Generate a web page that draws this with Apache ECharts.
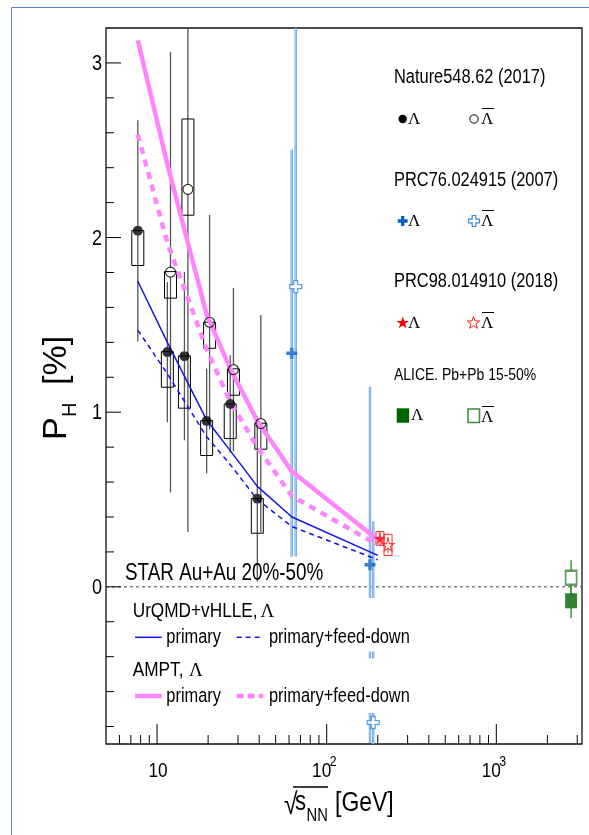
<!DOCTYPE html>
<html>
<head>
<meta charset="utf-8">
<script src="https://cdn.jsdelivr.net/npm/echarts@6/dist/echarts.min.js"></script>
<style>
html,body{margin:0;padding:0;background:#fff}
#chart{width:589px;height:835px}
</style>
</head>
<body>
<div id="chart"></div>
<script>
const SANS = "'Liberation Sans',Arial,sans-serif";
const SERIF = "'Liberation Serif','Times New Roman',serif";
const NARROW = 0.82; // horizontal squeeze for the condensed lettering

// axis ranges
const X_MIN = 5, X_MAX = 3200, Y_MIN = -0.9, Y_MAX = 3.2;

// tick positions and labels
const xMajorTicks = [10, 100, 1000];
const xMinorTicks = [6, 7, 8, 9, 20, 30, 40, 50, 60, 70, 80, 90, 200, 300, 400, 500, 600, 700, 800, 900, 2000, 3000];
const xTickLabels = ['10', '10', '10'];
const xTickExps = ['', '2', '3'];
const yMajorTicks = [0, 1, 2, 3];
const yMinorTicks = [-0.8, -0.6, -0.4, -0.2, 0.2, 0.4, 0.6, 0.8, 1.2, 1.4, 1.6, 1.8, 2.2, 2.4, 2.6, 2.8];
const yTickLabels = ['0', '1', '2', '3'];

// STAR BES (Nature 548, 62): Lambda
const lamEnergy = [7.7, 11.5, 14.5, 19.6, 27, 39];
const lamP = [2.039, 1.344, 1.321, 0.950, 1.047, 0.504];
const lamStat = [0.633, 0.401, 0.482, 0.300, 0.279, 0.473];
const lamSysLo = [1.84, 1.143, 1.023, 0.752, 0.849, 0.307];
const lamSysHi = [2.04, 1.347, 1.322, 0.952, 1.047, 0.505];

// STAR BES: anti-Lambda (slightly displaced in energy)
const antiEnergy = [12.0, 15.2, 20.4, 28.2, 40.9];
const antiP = [1.802, 2.276, 1.515, 1.244, 0.935];
const antiStat = [1.261, 1.962, 0.614, 0.468, 0.622];
const antiSysLo = [1.653, 2.128, 1.366, 1.097, 0.788];
const antiSysHi = [1.805, 2.679, 1.515, 1.248, 0.937];

// PRC 76, 024915 (2007)
const prc76LamEnergy = [62.2, 180];
const prc76LamP = [1.338, 0.126];
const prc76LamStat = [1.165, 1.02];
const prc76AntiEnergy = [65.7, 188];
const prc76AntiP = [1.719, -0.777];
const prc76AntiStat = [1.545, 1.151];

// PRC 98, 014910 (2018)
const prc98LamEnergy = [206];
const prc98LamP = [0.277];
const prc98LamStat = [0.040];
const prc98LamSys = [0.039];
const prc98AntiEnergy = [230];
const prc98AntiP = [0.240];
const prc98AntiStat = [0.045];
const prc98AntiSys = [0.061];

// ALICE Pb+Pb 2.76 TeV
const aliceEnergy = [2760];
const aliceLamP = [-0.08];
const aliceLamStat = [0.10];
const aliceAntiP = [0.052];
const aliceAntiStat = [0.10];

// model calculations
const modelEnergy = [7.7, 11.5, 19.6, 27, 39, 62.4, 200];
const urqmdPrimary = [1.75, 1.40, 0.955, 0.78, 0.575, 0.40, 0.18];
const urqmdFeedDown = [1.47, 1.22, 0.86, 0.70, 0.50, 0.345, 0.155];
const amptPrimary = [3.13, 2.42, 1.56, 1.25, 0.95, 0.66, 0.27];
const amptFeedDown = [2.59, 1.97, 1.36, 1.06, 0.80, 0.52, 0.24];

const zip = (xs, ...cols) => xs.map((x, i) => [x, ...cols.map(c => c[i])]);
const clampY = v => Math.max(Y_MIN, Math.min(Y_MAX, v));

const STAR_PATH = 'path://M50,0 L61.8,35.1 L97.6,34.5 L69.1,56.7 L79.4,90.5 L50,70 L20.6,90.5 L30.9,56.7 L2.4,34.5 L38.2,35.1 Z';
const CROSS_PATH = 'path://M34,0 L66,0 L66,34 L100,34 L100,66 L66,66 L66,100 L34,100 L34,66 L0,66 L0,34 L34,34 Z';

function custom(name, data, renderItem, z) {
  return {type: 'custom', name, data, renderItem, z, silent: true,
    coordinateSystem: 'cartesian2d', encode: {x: 0, y: 1}, clip: false};
}

// vertical error bars with a gap around the marker
function errorBars(name, data, gap, strokes, z) {
  return custom(name, data, (params, api) => {
    const x = api.value(0), y = api.value(1), e = api.value(2);
    const c = api.coord([x, y]);
    const top = api.coord([x, clampY(y + e)]);
    const bot = api.coord([x, clampY(y - e)]);
    const segs = [];
    if (top[1] < c[1] - gap) segs.push([top[1], c[1] - gap]);
    if (bot[1] > c[1] + gap) segs.push([c[1] + gap, bot[1]]);
    const children = [];
    strokes.forEach(s => segs.forEach(sg => children.push({
      type: 'line', shape: {x1: c[0], y1: sg[0], x2: c[0], y2: sg[1]},
      style: {stroke: s.color, lineWidth: s.width}
    })));
    return {type: 'group', children};
  }, z);
}

// systematic boxes
function sysBoxes(name, data, halfW, color, z) {
  return custom(name, data, (params, api) => {
    const x = api.value(0);
    const hi = api.coord([x, clampY(api.value(2))]);
    const lo = api.coord([x, clampY(api.value(1))]);
    return {type: 'rect', shape: {x: hi[0] - halfW, y: hi[1], width: 2 * halfW, height: lo[1] - hi[1]},
      style: {fill: 'none', stroke: color, lineWidth: 1}};
  }, z);
}

const chart = echarts.init(document.getElementById('chart'), null, {renderer: 'canvas'});

const series = [
  // zero reference line
  {type: 'line', name: 'zero', data: [[X_MIN, 0], [X_MAX, 0]], symbol: 'none', silent: true, z: 1,
    lineStyle: {color: '#444', width: 1, type: [3, 3]}},
  // axis ticks (x)
  custom('xMajor', xMajorTicks.map(v => [v, Y_MIN]), (p, api) => {
    const c = api.coord([api.value(0), api.value(1)]);
    return {type: 'line', shape: {x1: c[0], y1: c[1], x2: c[0], y2: c[1] - 20}, style: {stroke: '#000', lineWidth: 1}};
  }, 2),
  custom('xMinor', xMinorTicks.map(v => [v, Y_MIN]), (p, api) => {
    const c = api.coord([api.value(0), api.value(1)]);
    return {type: 'line', shape: {x1: c[0], y1: c[1], x2: c[0], y2: c[1] - 9}, style: {stroke: '#000', lineWidth: 1}};
  }, 2),
  custom('xLabels', xMajorTicks.map(v => [v, Y_MIN]), (p, api) => {
    const c = api.coord([api.value(0), api.value(1)]);
    const base = xTickLabels[p.dataIndex], exp = xTickExps[p.dataIndex];
    if (!exp) {
      return {type: 'text', x: c[0] + 1, y: c[1] + 27, scaleX: NARROW,
        style: {text: base, font: `21px ${SANS}`, fill: '#000', align: 'center', verticalAlign: 'middle'}};
    }
    return {type: 'group', children: [
      {type: 'text', x: c[0] - 5, y: c[1] + 27, scaleX: NARROW, style: {text: base, font: `21px ${SANS}`, fill: '#000', align: 'center', verticalAlign: 'middle'}},
      {type: 'text', x: c[0] + 3, y: c[1] + 18, scaleX: NARROW, style: {text: exp, font: `15px ${SANS}`, fill: '#000', align: 'left', verticalAlign: 'middle'}}
    ]};
  }, 2),
  // axis ticks (y)
  custom('yMajor', yMajorTicks.map(v => [X_MIN, v]), (p, api) => {
    const c = api.coord([api.value(0), api.value(1)]);
    return {type: 'line', shape: {x1: c[0], y1: c[1], x2: c[0] + 15, y2: c[1]}, style: {stroke: '#000', lineWidth: 1}};
  }, 2),
  custom('yMinor', yMinorTicks.map(v => [X_MIN, v]), (p, api) => {
    const c = api.coord([api.value(0), api.value(1)]);
    return {type: 'line', shape: {x1: c[0], y1: c[1], x2: c[0] + 8, y2: c[1]}, style: {stroke: '#000', lineWidth: 1}};
  }, 2),
  custom('yLabels', yMajorTicks.map(v => [X_MIN, v]), (p, api) => {
    const c = api.coord([api.value(0), api.value(1)]);
    return {type: 'text', x: c[0] - 4, y: c[1] + 1, scaleX: NARROW,
      style: {text: yTickLabels[p.dataIndex], font: `22px ${SANS}`, fill: '#000', align: 'right', verticalAlign: 'middle'}};
  }, 2),

  // STAR BES error bars and boxes
  errorBars('lamErr', zip(lamEnergy, lamP, lamStat), 5, [{color: '#555', width: 1.3}], 3),
  errorBars('antiErr', zip(antiEnergy, antiP, antiStat), 5, [{color: '#555', width: 1.3}], 3),
  sysBoxes('lamSys', zip(lamEnergy, lamSysLo, lamSysHi), 6, '#000', 4),
  sysBoxes('antiSys', zip(antiEnergy, antiSysLo, antiSysHi), 6, '#000', 4),

  // PRC76 error bars
  errorBars('prc76LamErr', zip(prc76LamEnergy, prc76LamP, prc76LamStat), 5,
    [{color: '#5f9fe0', width: 2.4}, {color: '#d6e8f8', width: 0.7}], 3),
  errorBars('prc76AntiErr', zip(prc76AntiEnergy, prc76AntiP, prc76AntiStat), 5,
    [{color: '#5f9fe0', width: 2.4}, {color: '#d6e8f8', width: 0.7}], 3),

  // PRC98 error bars and boxes
  errorBars('prc98LamErr', zip(prc98LamEnergy, prc98LamP, prc98LamStat), 4, [{color: '#ff2020', width: 1}], 3),
  errorBars('prc98AntiErr', zip(prc98AntiEnergy, prc98AntiP, prc98AntiStat), 4, [{color: '#ff2020', width: 1}], 3),
  sysBoxes('prc98LamSys', zip(prc98LamEnergy, prc98LamP.map((v, i) => v - prc98LamSys[i]), prc98LamP.map((v, i) => v + prc98LamSys[i])), 4, '#ff2020', 4),
  sysBoxes('prc98AntiSys', zip(prc98AntiEnergy, prc98AntiP.map((v, i) => v - prc98AntiSys[i]), prc98AntiP.map((v, i) => v + prc98AntiSys[i])), 4, '#ff2020', 4),

  // ALICE error bars
  errorBars('aliceLamErr', zip(aliceEnergy, aliceLamP, aliceLamStat), 7, [{color: '#3c963c', width: 1.5}], 3),
  errorBars('aliceAntiErr', zip(aliceEnergy, aliceAntiP, aliceAntiStat), 7, [{color: '#3c963c', width: 1.5}], 3),

  // model curves
  {type: 'line', name: 'AMPT primary', data: zip(modelEnergy, amptPrimary), symbol: 'none', silent: true, z: 5,
    lineStyle: {color: '#ff85ff', width: 4.5}},
  {type: 'line', name: 'AMPT primary+feed-down', data: zip(modelEnergy, amptFeedDown), symbol: 'none', silent: true, z: 5,
    lineStyle: {color: '#ff85ff', width: 4.5, type: [7, 6]}},
  {type: 'line', name: 'UrQMD primary', data: zip(modelEnergy, urqmdPrimary), symbol: 'none', silent: true, z: 6,
    lineStyle: {color: '#1414e0', width: 1.5}},
  {type: 'line', name: 'UrQMD primary+feed-down', data: zip(modelEnergy, urqmdFeedDown), symbol: 'none', silent: true, z: 6,
    lineStyle: {color: '#1414e0', width: 1.5, type: [5, 4]}},

  // markers
  {type: 'scatter', name: 'Lambda', data: zip(lamEnergy, lamP), symbol: 'circle', symbolSize: 10, z: 8, silent: true,
    itemStyle: {color: '#000'}},
  {type: 'scatter', name: 'anti-Lambda', data: zip(antiEnergy, antiP), symbol: 'circle', symbolSize: 10, z: 8, silent: true,
    itemStyle: {color: 'rgba(255,255,255,0)', borderColor: '#000', borderWidth: 1.2}},
  {type: 'scatter', name: 'PRC76 Lambda', data: zip(prc76LamEnergy, prc76LamP), symbol: CROSS_PATH, symbolSize: 11, z: 8, silent: true,
    itemStyle: {color: '#0a62c8'}},
  {type: 'scatter', name: 'PRC76 anti-Lambda', data: zip(prc76AntiEnergy, prc76AntiP), symbol: CROSS_PATH, symbolSize: 12, z: 8, silent: true,
    itemStyle: {color: '#fff', borderColor: '#3c88d8', borderWidth: 1.3}},
  {type: 'scatter', name: 'PRC98 Lambda', data: zip(prc98LamEnergy, prc98LamP), symbol: STAR_PATH, symbolSize: 12, z: 8, silent: true,
    itemStyle: {color: '#ff0000'}},
  {type: 'scatter', name: 'PRC98 anti-Lambda', data: zip(prc98AntiEnergy, prc98AntiP), symbol: STAR_PATH, symbolSize: 12, z: 8, silent: true,
    itemStyle: {color: 'rgba(255,255,255,0)', borderColor: '#ff2020', borderWidth: 1.1}},
  {type: 'scatter', name: 'ALICE Lambda', data: zip(aliceEnergy, aliceLamP), symbol: 'rect', symbolSize: [12, 15], z: 8, silent: true,
    itemStyle: {color: '#006400'}},
  {type: 'scatter', name: 'ALICE anti-Lambda', data: zip(aliceEnergy, aliceAntiP), symbol: 'rect', symbolSize: [11, 14], z: 8, silent: true,
    itemStyle: {color: '#fff', borderColor: '#3a8a3a', borderWidth: 2}}
];

// legend drawing helpers
const txt = (x, y, text, size) => ({type: 'text', x, y, z: 100, scaleX: NARROW,
  style: {text, font: `${size}px ${SANS}`, fill: '#000', align: 'left', verticalAlign: 'middle'}});
const lam = (x, y, bar) => {
  const els = [{type: 'text', x, y, z: 100, style: {text: 'Λ', font: `17px ${SERIF}`, fill: '#000', align: 'left', verticalAlign: 'middle'}}];
  if (bar) els.push({type: 'line', z: 100, shape: {x1: x + 1, y1: y - 11.5, x2: x + 13, y2: y - 11.5}, style: {stroke: '#000', lineWidth: 1}});
  return els;
};
function starPts(cx, cy, R) {
  const pts = [];
  for (let i = 0; i < 10; i++) {
    const r = i % 2 ? R * 0.4 : R;
    const a = -Math.PI / 2 + i * Math.PI / 5;
    pts.push([cx + r * Math.cos(a), cy + r * Math.sin(a)]);
  }
  return pts;
}
function crossPts(cx, cy, s) {
  const a = s / 2, b = s / 6;
  return [[cx - b, cy - a], [cx + b, cy - a], [cx + b, cy - b], [cx + a, cy - b], [cx + a, cy + b], [cx + b, cy + b],
    [cx + b, cy + a], [cx - b, cy + a], [cx - b, cy + b], [cx - a, cy + b], [cx - a, cy - b], [cx - b, cy - b]];
}

const graphic = [
  // outer page frame line
  {type: 'polyline', z: 100, shape: {points: [[11.5, 835], [11.5, 7.5], [589, 7.5]]}, style: {stroke: '#5a82c4', lineWidth: 1, fill: 'none'}},

  // y-axis title
  {type: 'group', x: 74, y: 440, rotation: Math.PI / 2, z: 100, children: [
    {type: 'text', x: 0, y: 0, style: {text: 'P', font: `34px ${SANS}`, fill: '#000', align: 'left', verticalAlign: 'bottom'}},
    {type: 'text', x: 23, y: 6, style: {text: 'H', font: `20px ${SANS}`, fill: '#000', align: 'left', verticalAlign: 'bottom'}},
    {type: 'text', x: 55, y: 0, style: {text: '[%]', font: `34px ${SANS}`, fill: '#000', align: 'left', verticalAlign: 'bottom'}}
  ]},

  // x-axis title
  {type: 'text', x: 284, y: 806, z: 100, scaleX: NARROW, style: {text: '√', font: `30px ${SANS}`, fill: '#000', align: 'left', verticalAlign: 'middle'}},
  {type: 'line', z: 100, shape: {x1: 293, y1: 787, x2: 328, y2: 787}, style: {stroke: '#000', lineWidth: 1.3}},
  {type: 'text', x: 295, y: 803, z: 100, scaleX: NARROW, style: {text: 's', font: `27px ${SANS}`, fill: '#000', align: 'left', verticalAlign: 'middle'}},
  {type: 'text', x: 306.5, y: 816, z: 100, scaleX: NARROW, style: {text: 'NN', font: `18px ${SANS}`, fill: '#000', align: 'left', verticalAlign: 'middle'}},
  {type: 'text', x: 335, y: 804, z: 100, scaleX: 0.85, style: {text: '[GeV]', font: `27px ${SANS}`, fill: '#000', align: 'left', verticalAlign: 'middle'}},

  // data legend, top right
  txt(394, 77, 'Nature548.62 (2017)', 20),
  {type: 'circle', z: 100, shape: {cx: 402.7, cy: 119, r: 4.2}, style: {fill: '#000'}},
  ...lam(408, 120, false),
  {type: 'circle', z: 100, shape: {cx: 474, cy: 119, r: 4.2}, style: {fill: '#fff', stroke: '#000', lineWidth: 1}},
  ...lam(481, 120, true),

  txt(394, 180, 'PRC76.024915 (2007)', 20),
  {type: 'polygon', z: 100, shape: {points: crossPts(402.7, 221, 10)}, style: {fill: '#0a62c8'}},
  ...lam(408, 222, false),
  {type: 'polygon', z: 100, shape: {points: crossPts(474, 221, 11)}, style: {fill: '#fff', stroke: '#3c88d8', lineWidth: 1.2}},
  ...lam(481, 222, true),

  txt(394, 281.7, 'PRC98.014910 (2018)', 20),
  {type: 'polygon', z: 100, shape: {points: starPts(402.7, 323, 6.5)}, style: {fill: '#ff0000'}},
  ...lam(408, 324, false),
  {type: 'polygon', z: 100, shape: {points: starPts(473.5, 323, 6.5)}, style: {fill: '#fff', stroke: '#ff2020', lineWidth: 1}},
  ...lam(481, 324, true),

  txt(394, 375.7, 'ALICE. Pb+Pb 15-50%', 17),
  {type: 'rect', z: 100, shape: {x: 396.7, y: 408.3, width: 12.5, height: 14.4}, style: {fill: '#006400'}},
  ...lam(411, 416, false),
  {type: 'rect', z: 100, shape: {x: 468, y: 409, width: 11.5, height: 13.5}, style: {fill: '#fff', stroke: '#3a8a3a', lineWidth: 1.5}},
  ...lam(481, 418, true),

  // model legend, lower left (opaque boxes)
  {type: 'rect', z: 99, shape: {x: 122, y: 598, width: 296, height: 53.5}, style: {fill: '#fff'}},
  {type: 'rect', z: 99, shape: {x: 122, y: 658.5, width: 296, height: 54.5}, style: {fill: '#fff'}},
  txt(125, 574, 'STAR Au+Au 20%-50%', 23),
  txt(132.7, 611, 'UrQMD+vHLLE, ', 21),
  {type: 'text', x: 260.5, y: 612, z: 100, style: {text: 'Λ', font: `19px ${SERIF}`, fill: '#000', align: 'left', verticalAlign: 'middle'}},
  {type: 'line', z: 100, shape: {x1: 135, y1: 637.3, x2: 161.7, y2: 637.3}, style: {stroke: '#1414e0', lineWidth: 1.5}},
  txt(166.3, 637.5, 'primary', 20),
  {type: 'line', z: 100, shape: {x1: 236.7, y1: 637.3, x2: 263.3, y2: 637.3}, style: {stroke: '#1414e0', lineWidth: 1.5, lineDash: [5, 4]}},
  txt(269, 637.5, 'primary+feed-down', 20),
  txt(132.7, 670, 'AMPT, ', 21),
  {type: 'text', x: 189, y: 671, z: 100, style: {text: 'Λ', font: `19px ${SERIF}`, fill: '#000', align: 'left', verticalAlign: 'middle'}},
  {type: 'line', z: 100, shape: {x1: 135, y1: 696, x2: 161.7, y2: 696}, style: {stroke: '#ff85ff', lineWidth: 4.5}},
  txt(166.3, 696, 'primary', 20),
  {type: 'line', z: 100, shape: {x1: 236.7, y1: 696, x2: 263.3, y2: 696}, style: {stroke: '#ff85ff', lineWidth: 4.5, lineDash: [7, 4]}},
  txt(269, 696, 'primary+feed-down', 20)
];

chart.setOption({
  animation: false,
  backgroundColor: '#fff',
  grid: {left: 106, right: 7, top: 28, bottom: 91, show: true, borderColor: '#111', borderWidth: 1.3, backgroundColor: 'rgba(0,0,0,0)'},
  xAxis: {type: 'log', logBase: 10, min: X_MIN, max: X_MAX,
    axisLine: {show: false}, axisTick: {show: false}, axisLabel: {show: false}, splitLine: {show: false}},
  yAxis: {type: 'value', min: Y_MIN, max: Y_MAX,
    axisLine: {show: false}, axisTick: {show: false}, axisLabel: {show: false}, splitLine: {show: false}},
  series,
  graphic
});
</script>
</body>
</html>
